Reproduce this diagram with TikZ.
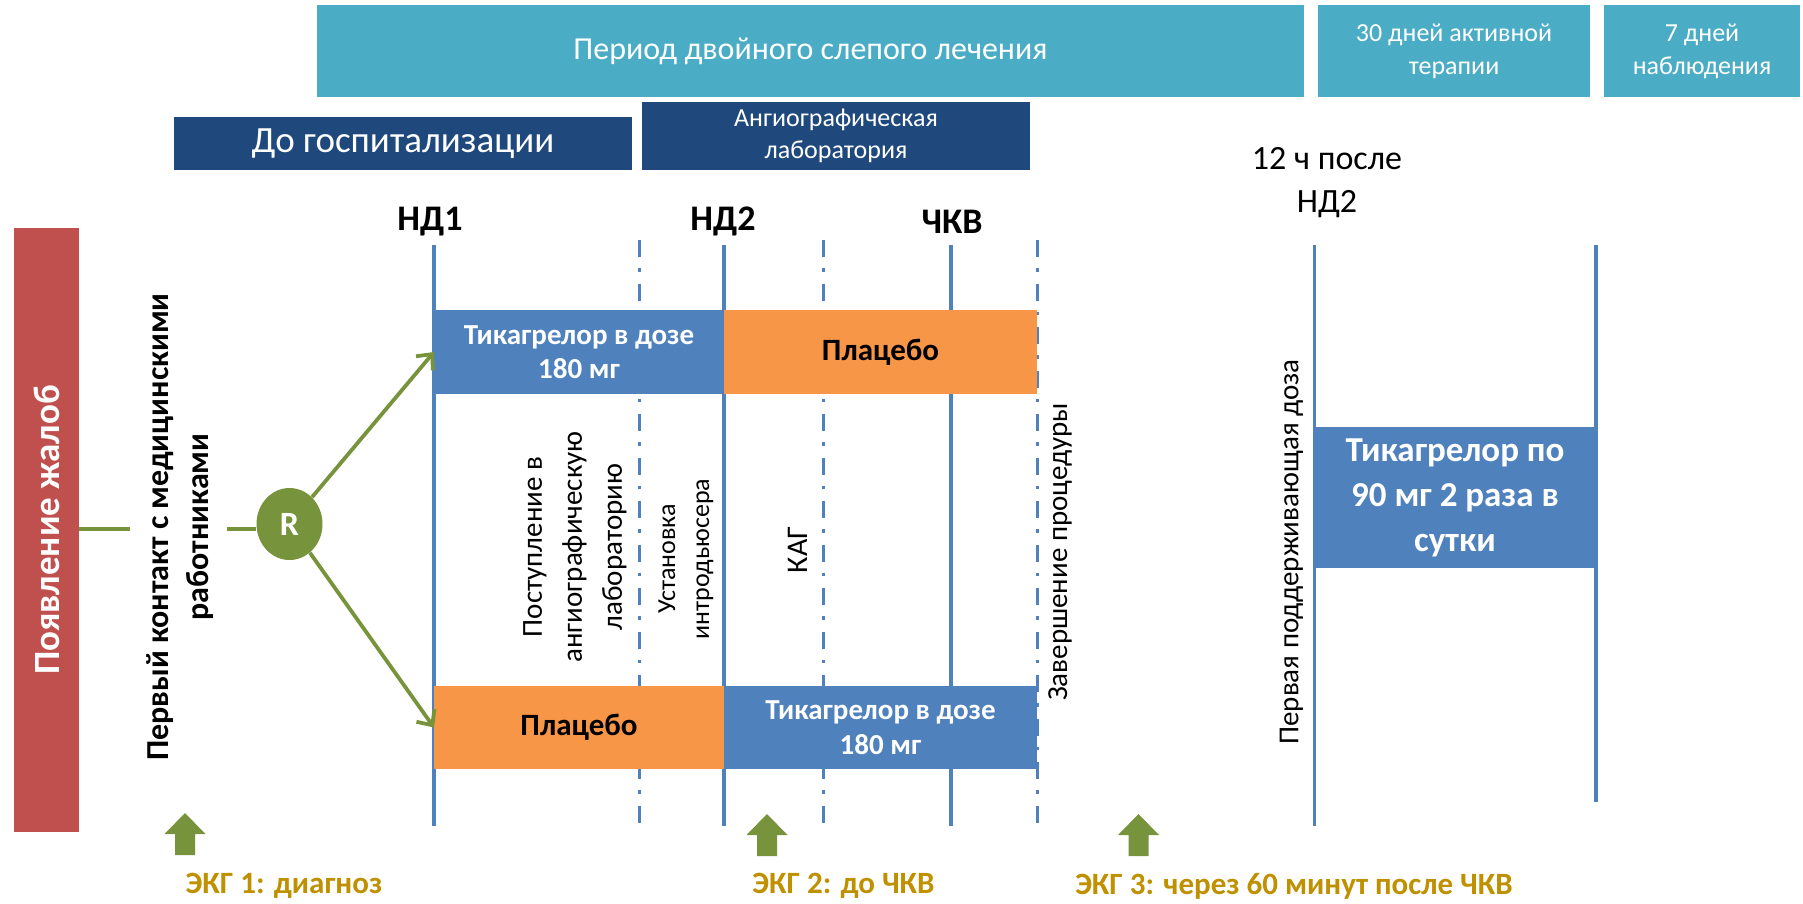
\documentclass[tikz,border=0pt]{standalone}
\usepackage{fontspec}
\setmainfont{Carlito}
\usetikzlibrary{arrows.meta,fit,shapes.geometric}
\definecolor{cyanbox}{HTML}{4BACC6}
\definecolor{darkbox}{HTML}{1F497D}
\definecolor{bluebar}{HTML}{4F81BD}
\definecolor{orangebar}{HTML}{F79646}
\definecolor{redbox}{HTML}{C0504D}
\definecolor{olive}{HTML}{77933C}
\definecolor{goldtxt}{HTML}{BF9000}
\newcommand\fsz[2]{\fontsize{#1pt}{#2pt}\selectfont}
\begin{document}
\begin{tikzpicture}[x=0.5pt,y=-0.5pt,
  box/.style={inner sep=0pt, outer sep=0pt, draw=none},
  lbl/.style={inner sep=0pt, outer sep=0pt, align=center},
  vline/.style={draw=bluebar, line width=1.6pt},
  dline/.style={draw=bluebar, line width=1.7pt, dash pattern=on 8.5pt off 5.5pt on 1.75pt off 6pt},
  gline/.style={draw=olive, line width=1.9pt},
  garrow/.style={draw=olive, line width=1.9pt, -{Straight Barb[length=6pt,width=11pt,line width=1.9pt]}},
  ekgtxt/.style={lbl, text=goldtxt, font=\bfseries\fsz{15.5}{19}}]
\useasboundingbox (0,0) rectangle (1803,904);

% header boxes
\node[box, fill=cyanbox, fit={(317,5) (1304,97)}] (period) {};
\node[lbl, text=white, font=\fsz{16}{19.5}] (periodtxt) at (period.center) {Период двойного слепого лечения};
\node[box, fill=cyanbox, fit={(1318,5) (1590,97)}] (active) {};
\node[lbl, text=white, font=\fsz{13}{16.5}] (activetxt) at (active.center) {30 дней активной\\терапии};
\node[box, fill=cyanbox, fit={(1604,5) (1800,97)}] (observe) {};
\node[lbl, text=white, font=\fsz{13}{16.5}] (observetxt) at (observe.center) {7 дней\\наблюдения};
\node[box, fill=darkbox, fit={(174,117) (632,170)}] (prehosp) {};
\node[lbl, text=white, font=\fsz{18.5}{22}] (prehosptxt) at (prehosp.center) {До госпитализации};
\node[box, fill=darkbox, fit={(642,102) (1030,170)}] (angio) {};
\node[lbl, text=white, font=\fsz{13}{16}] (angiotxt) at (angio.center) {Ангиографическая\\лаборатория};
\node[lbl, font=\fsz{17}{21.5}] (after12) at (1327,183) {12 ч после\\НД2};

% timeline labels
\node[lbl, font=\bfseries\fsz{18}{22}] (nd1) at (430,222) {НД1};
\node[lbl, font=\bfseries\fsz{18}{22}] (nd2) at (723,221) {НД2};
\node[lbl, font=\bfseries\fsz{18}{22}] (pci) at (952,222) {ЧКВ};

% vertical lines
\coordinate (s1t) at (434,245);    \coordinate (s1b) at (434,826);
\coordinate (d1t) at (639.5,240);  \coordinate (d1b) at (639.5,827);
\coordinate (s2t) at (724,245);    \coordinate (s2b) at (724,826);
\coordinate (d2t) at (823.5,240);  \coordinate (d2b) at (823.5,827);
\coordinate (s3t) at (951,245);    \coordinate (s3b) at (951,826);
\coordinate (d3t) at (1037.5,240); \coordinate (d3b) at (1037.5,827);
\coordinate (s4t) at (1314.5,245); \coordinate (s4b) at (1314.5,826);
\coordinate (s5t) at (1596,245);   \coordinate (s5b) at (1596,801.5);
\draw[vline] (s1t) -- (s1b);
\draw[vline] (s2t) -- (s2b);
\draw[vline] (s3t) -- (s3b);
\draw[vline] (s4t) -- (s4b);
\draw[vline] (s5t) -- (s5b);
\draw[dline] (d1t) -- (d1b);
\draw[dline] (d2t) -- (d2b);
\draw[dline] (d3t) -- (d3b);

% bars
\node[box, fill=bluebar, fit={(434,310) (724,394)}] (tb1) {};
\node[lbl, text=white, font=\bfseries\fsz{14.5}{17.25}] (tb1txt) at (tb1.center) {Тикагрелор в дозе\\180 мг};
\node[box, fill=orangebar, fit={(724,310) (1037,394)}] (tb2) {};
\node[lbl, text=black, font=\bfseries\fsz{15.5}{18}] (tb2txt) at (tb2.center) {Плацебо};
\node[box, fill=orangebar, fit={(434,686) (724,769)}] (bb1) {};
\node[lbl, text=black, font=\bfseries\fsz{15.5}{18}] (bb1txt) at (bb1.center) {Плацебо};
\node[box, fill=bluebar, fit={(724,686) (1037,769)}] (bb2) {};
\node[lbl, text=white, font=\bfseries\fsz{14.5}{17.25}] (bb2txt) at (bb2.center) {Тикагрелор в дозе\\180 мг};
\node[box, fill=bluebar, fit={(1316,427) (1594,568)}] (maint) {};
\node[lbl, text=white, font=\bfseries\fsz{17.5}{22.5}] (mainttxt) at (maint.center) {Тикагрелор по\\90 мг 2 раза в\\сутки};

% rotated labels
\node[lbl, rotate=90, font=\fsz{14.5}{20}] (arrive) at (575,547) {Поступление в\\ангиографическую\\лабораторию};
\node[lbl, rotate=90, font=\fsz{13}{17}] (sheath) at (686,559) {Установка\\интродьюсера};
\node[lbl, rotate=90, font=\fsz{15}{18}] (cag) at (798,550) {КАГ};
\node[lbl, rotate=90, font=\fsz{14.5}{18}] (endproc) at (1060,552) {Завершение процедуры};
\node[lbl, rotate=90, font=\fsz{14.5}{18}] (firstmd) at (1291.5,552) {Первая поддерживающая доза};

% left part
\node[box, fill=redbox, fit={(14,228) (79,832)}] (red) {};
\node[lbl, rotate=90, text=white, font=\bfseries\fsz{18.5}{22}] (redtxt) at (red.center) {Появление жалоб};
\node[lbl, rotate=90, font=\bfseries\fsz{16}{20}] (contact) at (180,527) {Первый контакт с медицинскими\\работниками};
\node[ellipse, fill=olive, minimum width=33pt, minimum height=36pt, inner sep=0pt, text=white, font=\bfseries\fsz{17}{20}] (R) at (289.5,524) {R};
\coordinate (g1) at (130,529);
\coordinate (g2) at (227,529);
\draw[gline] (red.east |- g1) -- (g1);
\draw[gline] (g2) -- (g2 -| R.west);
\draw[garrow] (R) -- (tb1.west);
\draw[garrow] (R) -- (bb1.west);

% ECG arrows
\coordinate (e1) at (185,855);
\coordinate (e2) at (767,856);
\coordinate (e3) at (1138.5,856);
\foreach \e in {e1,e2,e3}
  \fill[olive] (\e) ++(-10,0) -- ++(0,-21) -- ++(-10.5,0) -- ++(20.5,-21) -- ++(20.5,21) -- ++(-10.5,0) -- ++(0,21) -- cycle;
\node[ekgtxt] (ekg1) at (284,886) {ЭКГ 1: диагноз};
\node[ekgtxt] (ekg2) at (843.5,886) {ЭКГ 2: до ЧКВ};
\node[ekgtxt] (ekg3) at (1294,886) {ЭКГ 3: через 60 минут после ЧКВ};
\end{tikzpicture}
\end{document}
